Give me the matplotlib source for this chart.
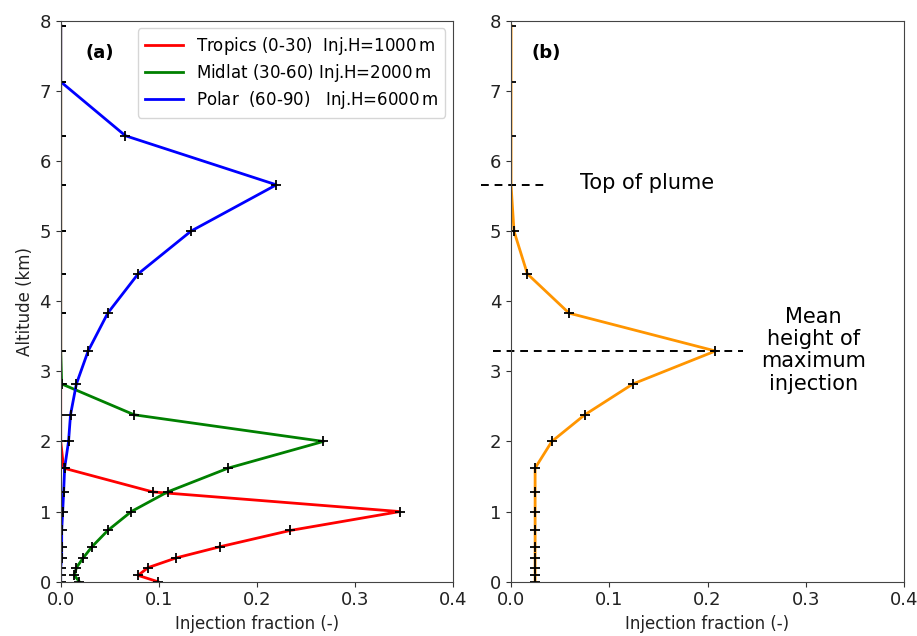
"""Injection fraction profiles: (a) per latitude band, (b) mean profile."""

import matplotlib

matplotlib.use("Agg")
import matplotlib.pyplot as plt

# model levels (km)
levels = [0.0, 0.09, 0.2, 0.34, 0.5, 0.73, 1.0, 1.28, 1.62, 2.0,
          2.38, 2.82, 3.29, 3.83, 4.39, 5.0, 5.66, 6.36, 7.13, 7.93]

tropics = [0.099, 0.079, 0.089, 0.118, 0.163, 0.234, 0.346, 0.094, 0.003, 0.0,
           0.0, 0.0, 0.0, 0.0, 0.0, 0.0, 0.0, 0.0, 0.0, 0.0]
midlat = [0.019, 0.014, 0.016, 0.023, 0.032, 0.048, 0.072, 0.109, 0.171, 0.268,
          0.075, 0.001, 0.0, 0.0, 0.0, 0.0, 0.0, 0.0, 0.0, 0.0]
polar = [0.0, 0.0, 0.0, 0.001, 0.001, 0.001, 0.002, 0.003, 0.004, 0.008,
         0.010, 0.016, 0.028, 0.048, 0.079, 0.133, 0.220, 0.066, 0.0, 0.0]
mean_profile = [0.0245, 0.0245, 0.0245, 0.0245, 0.0245, 0.0245, 0.0245, 0.0245,
                0.0245, 0.0415, 0.075, 0.124, 0.208, 0.059, 0.0166, 0.003,
                0.0, 0.0, 0.0, 0.0]

labels = ["Tropics (0-30)  Inj.H=1000$\\,$m",
          "Midlat (30-60) Inj.H=2000$\\,$m",
          "Polar  (60-90)   Inj.H=6000$\\,$m"]
colors = ["red", "green", "blue"]

top_of_plume = 5.66
max_injection = 3.29

fig = plt.figure(figsize=(9.17, 6.36), dpi=100)
ax1 = fig.add_axes([0.0662, 0.0854, 0.4275, 0.882])
ax2 = fig.add_axes([0.5573, 0.0854, 0.4286, 0.882])

for prof, lab, col in zip([tropics, midlat, polar], labels, colors):
    ax1.plot(prof, levels, color=col, lw=2, label=lab)
    ax1.plot(prof, levels, "k+", ms=7, mew=1.3)
ax1.legend(loc="upper right", fontsize=12, handlelength=2.3,
           borderaxespad=0.45, labelspacing=0.3)
ax1.text(0.025, 7.54, "(a)", fontsize=13, fontweight="bold", va="center")

ax2.plot(mean_profile, levels, color="#ff9500", lw=2)
ax2.plot(mean_profile, levels, "k+", ms=7, mew=1.3)
ax2.plot([-0.031, 0.038], [top_of_plume, top_of_plume], "k--", lw=1.4,
         dashes=(4, 3), clip_on=False)
ax2.plot([-0.018, 0.236], [max_injection, max_injection], "k--", lw=1.4,
         dashes=(4, 3), clip_on=False)
ax2.text(0.021, 7.54, "(b)", fontsize=13, fontweight="bold", va="center")
ax2.text(0.0704, 5.68, "Top of plume", fontsize=15, va="center")
ax2.text(0.308, 3.3, "Mean\nheight of\nmaximum\ninjection", fontsize=15,
         ha="center", va="center", linespacing=1.15)

for ax in (ax1, ax2):
    ax.set_xlim(0, 0.4)
    ax.set_ylim(0, 8)
    ax.set_xticks([0.0, 0.1, 0.2, 0.3, 0.4])
    ax.set_yticks(range(0, 9))
    ax.tick_params(labelsize=13, color="#333333", labelcolor="#222222")
    ax.set_xlabel("Injection fraction (-)", fontsize=12, color="#222222")
    for s in ax.spines.values():
        s.set_color("#444444")
ax1.set_ylabel("Altitude (km)", fontsize=12, color="#222222")

fig.savefig("out.png", dpi=100)
